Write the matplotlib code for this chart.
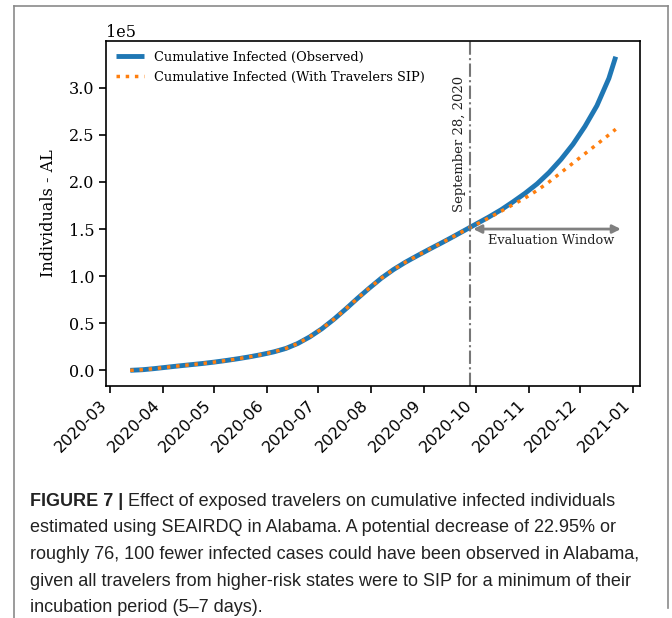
import matplotlib
matplotlib.use("Agg")
import matplotlib.pyplot as plt
import matplotlib.dates as mdates
import numpy as np
import pandas as pd
from matplotlib.lines import Line2D

# ---- data (values in units of 1e5 individuals) ----
dates = ["2020-03-13", "2020-03-20", "2020-03-27", "2020-04-03", "2020-04-10", "2020-04-17",
         "2020-04-24", "2020-05-01", "2020-05-08", "2020-05-15", "2020-05-22", "2020-05-29",
         "2020-06-05", "2020-06-12", "2020-06-19", "2020-06-26", "2020-07-03", "2020-07-10",
         "2020-07-17", "2020-07-24", "2020-07-31", "2020-08-07", "2020-08-14", "2020-08-21",
         "2020-08-28", "2020-09-04", "2020-09-11", "2020-09-18", "2020-09-25", "2020-10-02",
         "2020-10-09", "2020-10-16", "2020-10-23", "2020-10-30", "2020-11-06", "2020-11-13",
         "2020-11-20", "2020-11-27", "2020-12-04", "2020-12-11", "2020-12-18", "2020-12-22"]

observed = [0.0, 0.006, 0.018, 0.032, 0.046, 0.059,
            0.072, 0.087, 0.104, 0.123, 0.144, 0.168,
            0.196, 0.232, 0.285, 0.355, 0.44, 0.54,
            0.65, 0.765, 0.875, 0.98, 1.07, 1.148,
            1.218, 1.286, 1.352, 1.42, 1.49, 1.56,
            1.63, 1.705, 1.79, 1.88, 1.98, 2.10,
            2.24, 2.40, 2.59, 2.81, 3.10, 3.33]

with_sip = [0.0, 0.006, 0.018, 0.032, 0.046, 0.059,
            0.072, 0.087, 0.104, 0.123, 0.144, 0.168,
            0.196, 0.232, 0.285, 0.355, 0.44, 0.54,
            0.65, 0.765, 0.875, 0.98, 1.07, 1.148,
            1.218, 1.286, 1.352, 1.42, 1.49, 1.555,
            1.62, 1.69, 1.76, 1.83, 1.91, 2.00,
            2.10, 2.20, 2.30, 2.40, 2.50, 2.56]

split_date = "2020-09-28"
window_end = "2020-12-25"
window_level = 1.5

caption_bold = "FIGURE 7 |"
caption_lines = [
    " Effect of exposed travelers on cumulative infected individuals",
    "estimated using SEAIRDQ in Alabama. A potential decrease of 22.95% or",
    "roughly 76, 100 fewer infected cases could have been observed in Alabama,",
    "given all travelers from higher-risk states were to SIP for a minimum of their",
    "incubation period (5\u20137 days).",
]

# ---- figure ----
W, H = 672, 618
fig = plt.figure(figsize=(W / 100, H / 100), dpi=100)
fig.patch.set_facecolor("white")

serif = "DejaVu Serif"
ax = fig.add_axes([106 / W, 1 - 386 / H, (640 - 106) / W, (386 - 41) / H])

x = pd.to_datetime(dates)
ax.plot(x, np.array(observed) * 1e5, color="#1f77b4", lw=3.5,
        label="Cumulative Infected (Observed)", solid_capstyle="butt",
        solid_joinstyle="round")
ax.plot(x, np.array(with_sip) * 1e5, color="#ff7f0e", lw=2.5, ls=":",
        label="Cumulative Infected (With Travelers SIP)")

sd = pd.Timestamp(split_date)
ax.axvline(sd, color="#777777", lw=1.5, ls="-.")
ax.annotate("September 28, 2020", xy=(sd, 3.13e5), xytext=(-3, 0),
            textcoords="offset points", rotation=90, ha="right", va="top",
            fontsize=9.5, family=serif, color="#222222")

ax.annotate("", xy=(pd.Timestamp(window_end), window_level * 1e5),
            xytext=(sd, window_level * 1e5),
            arrowprops=dict(arrowstyle="<|-|>", color="#808080", lw=2,
                            shrinkA=2, shrinkB=0, mutation_scale=12))
ax.text(pd.Timestamp("2020-11-14"), window_level * 1e5 - 0.05e5, "Evaluation Window",
        ha="center", va="top", fontsize=9.3, family=serif, color="#222222")

ax.ticklabel_format(axis="y", style="sci", scilimits=(0, 0), useMathText=False)
ax.xaxis.set_major_locator(mdates.MonthLocator())
ax.xaxis.set_major_formatter(mdates.DateFormatter("%Y-%m"))
for lab in ax.get_xticklabels():
    lab.set_rotation(45)
    lab.set_ha("right")
    lab.set_fontfamily("DejaVu Sans")
    lab.set_fontsize(11.5)
for lab in ax.get_yticklabels():
    lab.set_fontfamily(serif)
    lab.set_fontsize(11.5)
ax.yaxis.get_offset_text().set_fontfamily(serif)
ax.yaxis.get_offset_text().set_fontsize(11.5)
ax.tick_params(length=5, width=1.2)
for s in ax.spines.values():
    s.set_linewidth(1.2)

ax.set_ylabel("Individuals - AL", family=serif, fontsize=11.5, labelpad=8)

leg = ax.legend(loc="upper left", frameon=False, prop={"family": serif, "size": 9.3},
                handlelength=2.2, handletextpad=0.75, labelspacing=0.55,
                borderaxespad=0.35)

# ---- outer frame ----
frame_col = "#8a8a8a"
fig.add_artist(Line2D([14 / W, 668 / W], [1 - 6 / H, 1 - 6 / H], color=frame_col, lw=1.2))
fig.add_artist(Line2D([14 / W, 14 / W], [1 - 6 / H, 0], color=frame_col, lw=1.2))
fig.add_artist(Line2D([668 / W, 668 / W], [1 - 6 / H, 1 - 608 / H], color=frame_col, lw=1.2))

# ---- caption ----
cap_family = ["Liberation Sans", "DejaVu Sans"]
cap_size = 13
y0 = 1 - 501 / H
dy = 26.7 / H
tb = fig.text(30 / W, y0, caption_bold, fontsize=cap_size, family=cap_family,
              weight="bold", va="center", color="#222222")
ax.annotate(caption_lines[0], xy=(1, 0), xycoords=tb, va="bottom", ha="left",
            fontsize=cap_size, family=cap_family, color="#222222",
            annotation_clip=False)
for i, line in enumerate(caption_lines[1:], start=1):
    fig.text(30 / W, y0 - i * dy, line, fontsize=cap_size, family=cap_family,
             va="center", color="#222222")

fig.savefig("out.png", dpi=100)
